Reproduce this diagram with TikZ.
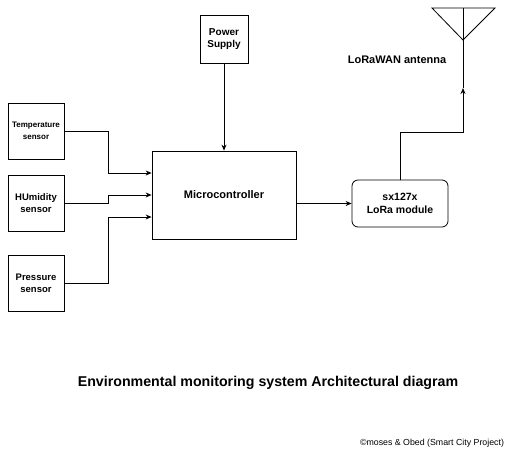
\documentclass[tikz,border=0pt]{standalone}
\usepackage{fontspec}
\setmainfont{Liberation Sans}
\usetikzlibrary{arrows.meta}
\begin{document}
\begin{tikzpicture}[x=1pt,y=-1pt,
  box/.style={draw, line width=0.8pt, inner sep=0pt, align=center},
  arr/.style={line width=0.8pt, -{Stealth[length=6pt,width=5pt]}},
  wire/.style={line width=0.8pt},
  lbl/.style={inner sep=0pt, align=center}]
\useasboundingbox (0,0) rectangle (521,464);
\fill[white] (0,0) rectangle (521,464);
% boxes
\node[box, minimum width=48pt, minimum height=48pt, font=\fontsize{10}{12}\selectfont\bfseries] (power) at (224,39) {Power\\Supply};
\node[box, minimum width=144pt, minimum height=88pt, font=\fontsize{11}{13}\selectfont\bfseries] (micro) at (224,195) {Microcontroller};
\node[box, minimum width=56pt, minimum height=56pt, font=\fontsize{8}{12}\selectfont\bfseries] (temp) at (36,131) {Temperature\\sensor};
\node[box, minimum width=56pt, minimum height=56pt, font=\fontsize{9.5}{12}\selectfont\bfseries] (hum) at (36,203) {HUmidity\\sensor};
\node[box, minimum width=56pt, minimum height=56pt, font=\fontsize{9.5}{12}\selectfont\bfseries] (pres) at (36,283) {Pressure\\sensor};
\node[box, rounded corners=6pt, minimum width=96pt, minimum height=47pt, font=\fontsize{10.5}{12.5}\selectfont\bfseries] (lora) at (400,203.5) {sx127x\\LoRa module};
% antenna
\coordinate (antTL) at (432,8);
\coordinate (antTR) at (495,8);
\coordinate (antTop) at (463,8);
\coordinate (antApex) at (463,40);
\coordinate (ant) at (463,88);
\draw[wire, line join=miter] (antTL) -- (antTR) -- (antApex) -- cycle;
\draw[wire] (antTop) -- (ant);
\node[lbl, font=\fontsize{11}{13}\selectfont\bfseries] (antlbl) at (397,60) {LoRaWAN antenna};
% connectors
\draw[arr] (power.south) -- (micro.north);
\draw[arr] (temp.east) -- ++(44,0) |- ([yshift=22pt]micro.west);
\draw[arr] (hum.east) -- ++(44,0) |- (micro.west);
\draw[arr] (pres.east) -- ++(44,0) |- ([yshift=-22pt]micro.west);
\draw[arr] (micro.east |- lora.west) -- (lora.west);
\draw[arr] (lora.north) -- ++(0,-47) -| (ant);
% texts
\node[lbl, font=\fontsize{14.2}{17}\selectfont\bfseries] (title) at (268,383) {Environmental monitoring system Architectural diagram};
\node[lbl, font=\fontsize{8.8}{10.5}\selectfont] (copy) at (432,443) {©moses \& Obed (Smart City Project)};
\end{tikzpicture}
\end{document}
